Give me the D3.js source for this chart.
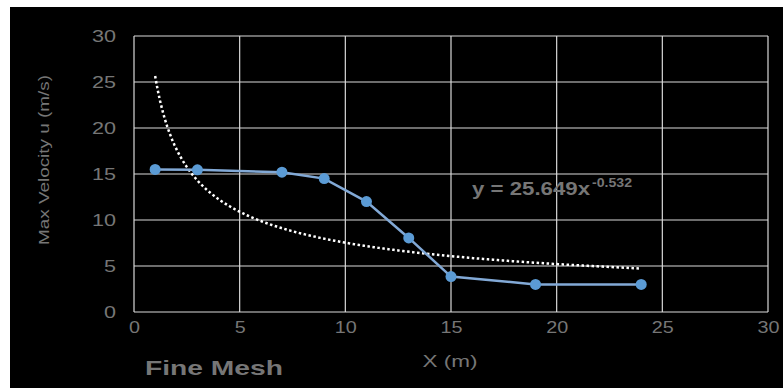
<!DOCTYPE html>
<html>
<head>
<meta charset="utf-8">
<script src="https://cdn.jsdelivr.net/npm/d3@7"></script>
<style>
html,body{margin:0;padding:0;background:#fff;}
svg{display:block;}
text{font-family:"Liberation Sans",Arial,sans-serif;}
</style>
</head>
<body>
<script>
// ---- data ----
const xValues = [1, 3, 7, 9, 11, 13, 15, 19, 24];
const yValues = [15.5, 15.45, 15.2, 14.5, 12.0, 8.05, 3.85, 3.0, 3.0];
const xTicks = [0, 5, 10, 15, 20, 25, 30];
const yTicks = [0, 5, 10, 15, 20, 25, 30];
const trendCoef = 25.649;
const trendExp = -0.532;
const trendRange = [1, 24];
const equationMain = "y = 25.649x";
const equationSup = "-0.532";
const xTitle = "X (m)";
const yTitle = "Max Velocity u (m/s)";
const chartLabel = "Fine Mesh";

const W = 783, H = 388;
const svg = d3.select("body").append("svg").attr("width", W).attr("height", H);
svg.append("rect").attr("x", 10).attr("y", 7).attr("width", W - 10).attr("height", H - 7).attr("fill", "#000");

const x = d3.scaleLinear().domain([0, 30]).range([134, 768]);
const y = d3.scaleLinear().domain([0, 30]).range([312, 36]);

const gridColor = "#d9d9d9";
const textColor = "#767676";

// gridlines
svg.append("g").selectAll("line").data(xTicks).join("line")
  .attr("x1", d => x(d)).attr("x2", d => x(d))
  .attr("y1", y(0)).attr("y2", y(30))
  .attr("stroke", gridColor).attr("stroke-width", 1.2);
svg.append("g").selectAll("line").data(yTicks).join("line")
  .attr("y1", d => y(d)).attr("y2", d => y(d))
  .attr("x1", x(0)).attr("x2", x(30))
  .attr("stroke", gridColor).attr("stroke-width", 1.2);

// axes tick labels via d3 axes
const xAxis = svg.append("g").attr("transform", `translate(0,${y(0)})`)
  .call(d3.axisBottom(x).tickValues(xTicks).tickSize(0).tickPadding(16));
xAxis.select(".domain").remove();
xAxis.selectAll(".tick").each(function(d){
  d3.select(this).select("text").attr("fill", textColor).attr("font-size", 17)
    .attr("font-family", "Liberation Sans, Arial, sans-serif")
    .attr("dy", "0.3em")
    .attr("textLength", String(d).length * 11).attr("lengthAdjust", "spacingAndGlyphs");
});

const yAxis = svg.append("g").attr("transform", `translate(116,0)`)
  .call(d3.axisLeft(y).tickValues(yTicks).tickSize(0).tickPadding(0));
yAxis.select(".domain").remove();
yAxis.selectAll(".tick").each(function(d){
  d3.select(this).select("text").attr("fill", textColor).attr("font-size", 17)
    .attr("font-family", "Liberation Sans, Arial, sans-serif")
    .attr("textLength", String(d).length * 12).attr("lengthAdjust", "spacingAndGlyphs");
});

// trendline (power fit as shown by equation)
const trendPts = d3.range(0, 201).map(i => {
  const xv = trendRange[0] + (trendRange[1] - trendRange[0]) * i / 200;
  return [xv, trendCoef * Math.pow(xv, trendExp)];
});
svg.append("path").datum(trendPts)
  .attr("d", d3.line().x(d => x(d[0])).y(d => y(d[1])))
  .attr("fill", "none").attr("stroke", "#ffffff").attr("stroke-width", 2.5)
  .attr("stroke-dasharray", "2.5,2.5");

// series line
const pts = xValues.map((v, i) => [v, yValues[i]]);
svg.append("path").datum(pts)
  .attr("d", d3.line().x(d => x(d[0])).y(d => y(d[1])))
  .attr("fill", "none").attr("stroke", "#82a9d6").attr("stroke-width", 2.5);
svg.append("g").selectAll("circle").data(pts).join("circle")
  .attr("cx", d => x(d[0])).attr("cy", d => y(d[1])).attr("r", 5.5)
  .attr("fill", "#5b9bd5");

// equation label
const eq = svg.append("text").attr("x", 472).attr("y", 195)
  .attr("fill", textColor).attr("font-weight", "bold").attr("font-size", 18);
eq.append("tspan").text(equationMain).attr("textLength", 118).attr("lengthAdjust", "spacingAndGlyphs");
svg.append("text").attr("x", 592).attr("y", 187).attr("fill", textColor)
  .attr("font-weight", "bold").attr("font-size", 12)
  .attr("textLength", 40).attr("lengthAdjust", "spacingAndGlyphs").text(equationSup);

// axis titles
svg.append("text").attr("x", 450).attr("y", 367).attr("text-anchor", "middle")
  .attr("fill", textColor).attr("font-size", 16)
  .attr("textLength", 55).attr("lengthAdjust", "spacingAndGlyphs").text(xTitle);
svg.append("text").attr("transform", "translate(49,160) rotate(-90)").attr("text-anchor", "middle")
  .attr("fill", textColor).attr("font-size", 15)
  .attr("textLength", 170).attr("lengthAdjust", "spacingAndGlyphs").text(yTitle);

svg.append("text").attr("x", 145).attr("y", 375).attr("fill", textColor)
  .attr("font-weight", "bold").attr("font-size", 21)
  .attr("textLength", 138).attr("lengthAdjust", "spacingAndGlyphs").text(chartLabel);
</script>
</body>
</html>
